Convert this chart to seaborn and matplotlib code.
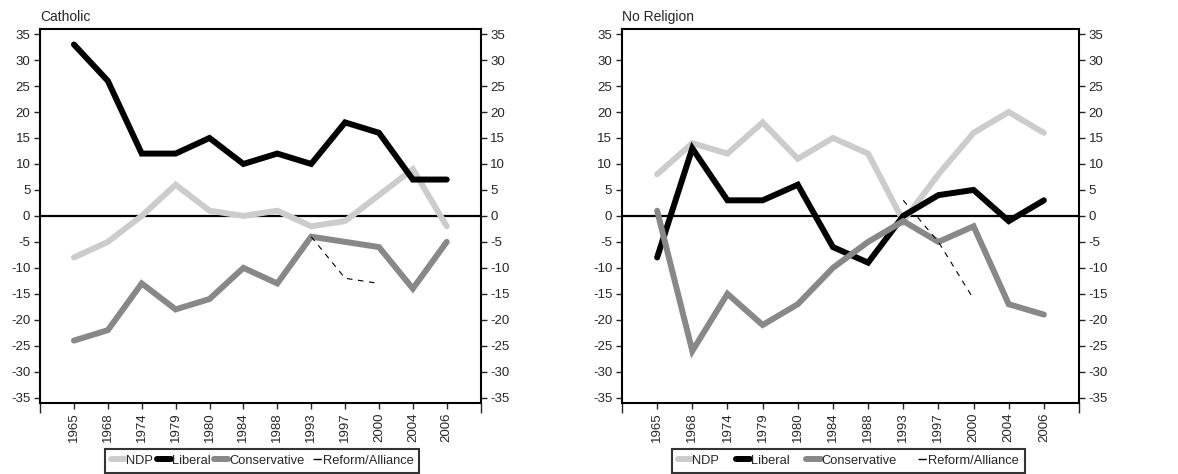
import numpy as np
import pandas as pd
import matplotlib
matplotlib.use("Agg")
import matplotlib.pyplot as plt
import seaborn as sns

years = ["1965", "1968", "1974", "1979", "1980", "1984", "1988", "1993", "1997", "2000", "2004", "2006"]
nan = np.nan

cath_ndp = [-8, -5, 0, 6, 1, 0, 1, -2, -1, 4, 9, -2]
cath_lib = [33, 26, 12, 12, 15, 10, 12, 10, 18, 16, 7, 7]
cath_con = [-24, -22, -13, -18, -16, -10, -13, -4, -5, -6, -14, -5]
cath_ref = [nan, nan, nan, nan, nan, nan, nan, -4, -12, -13, nan, nan]

norel_ndp = [8, 14, 12, 18, 11, 15, 12, -1, 8, 16, 20, 16]
norel_lib = [-8, 13, 3, 3, 6, -6, -9, 0, 4, 5, -1, 3]
norel_con = [1, -26, -15, -21, -17, -10, -5, -1, -5, -2, -17, -19]
norel_ref = [nan, nan, nan, nan, nan, nan, nan, 3, -5, -16, nan, nan]

parties = ["NDP", "Liberal", "Conservative", "Reform/Alliance"]
colors = {"NDP": "#cccccc", "Liberal": "#000000", "Conservative": "#888888", "Reform/Alliance": "#000000"}
widths = {"NDP": 4.3, "Liberal": 4.3, "Conservative": 4.3, "Reform/Alliance": 0.8}

sns.set_style("white")
plt.rcParams["font.family"] = ["Liberation Sans", "DejaVu Sans"]

fig = plt.figure(figsize=(11.78, 4.74), dpi=100)
panels = [
    ("Catholic", [cath_ndp, cath_lib, cath_con, cath_ref], [0.034, 0.15, 0.374, 0.789], 0.148, 0.3),
    ("No Religion", [norel_ndp, norel_lib, norel_con, norel_ref], [0.528, 0.15, 0.388, 0.789], 0.109, 1.3),
]

for title, series, rect, legx, colsp in panels:
    ax = fig.add_axes(rect)
    x = np.arange(len(years))
    for name, vals in zip(parties, series):
        df = pd.DataFrame({"x": x, "y": vals})
        ref = name == "Reform/Alliance"
        sns.lineplot(data=df, x="x", y="y", ax=ax, color=colors[name], lw=widths[name],
                     ls=(0, (5, 5)) if ref else "-", label=name,
                     solid_capstyle="round", solid_joinstyle="miter")
    ax.axhline(0, color="black", lw=1.6, zorder=1)
    ax.set_xlim(-1, 12)
    ax.set_ylim(-36, 36)
    ax.set_xticks(x)
    ax.set_xticklabels(years, rotation=90, fontsize=9.5)
    ax.set_xticks([-1, 12], minor=True)
    ax.tick_params(axis="x", which="major", direction="out", length=4, width=1, bottom=True, pad=3)
    ax.tick_params(axis="x", which="minor", direction="out", length=7, width=1, bottom=True)
    yt = np.arange(-35, 40, 5)
    ax.set_yticks(yt)
    ax.set_yticklabels([str(v) for v in yt], fontsize=9.5)
    ax.tick_params(axis="y", direction="out", length=4, width=1, left=True, right=True,
                   labelleft=True, labelright=True, pad=3)
    ax.set_xlabel("")
    ax.set_ylabel("")
    for s in ax.spines.values():
        s.set_visible(True)
        s.set_color("black")
        s.set_linewidth(1.5)
    ax.text(0, 1.012, title, transform=ax.transAxes, fontsize=10, ha="left", va="bottom")
    leg = ax.legend(loc="upper left", bbox_to_anchor=(legx, -0.123), ncol=4, frameon=True,
                    fontsize=9.3, handlelength=1.1, handletextpad=0.05, columnspacing=colsp,
                    borderpad=0.45, borderaxespad=0, fancybox=False)
    leg.get_frame().set_edgecolor("black")
    leg.get_frame().set_linewidth(1.5)
    h = leg.get_lines()[3]
    h.set_linewidth(1.0)
    h.set_linestyle((0, (0.1, 3.5, 6, 30)))

fig.savefig("out.png", dpi=100)
